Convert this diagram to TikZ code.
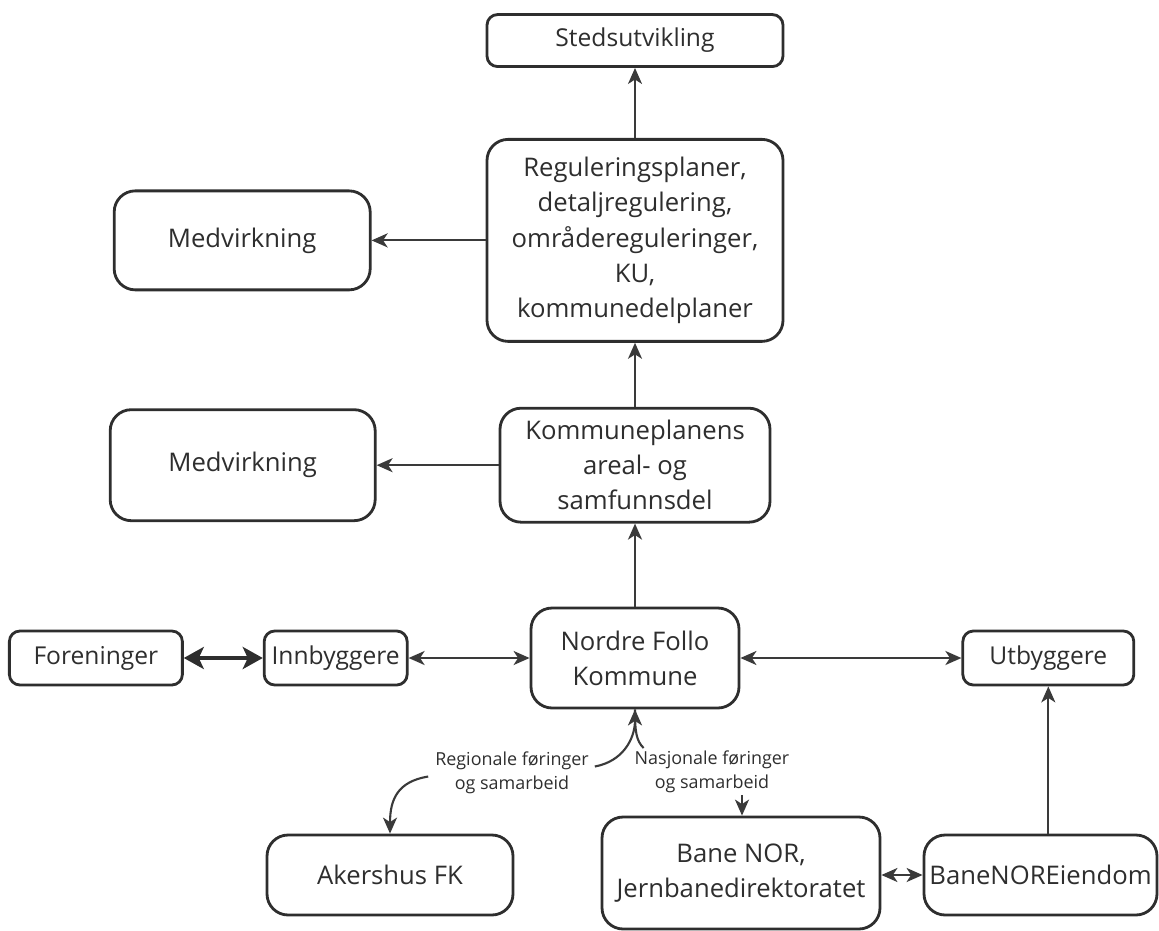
\documentclass[tikz,border=0pt]{standalone}
\usepackage{fontspec}
\setmainfont{Open Sans}
\usetikzlibrary{arrows.meta,positioning}
\definecolor{fgdark}{HTML}{2E2E2E}
\definecolor{lndark}{HTML}{3A3A3A}
\tikzset{
  box/.style  = {rectangle, rounded corners=6pt, draw=fgdark, line width=1.6pt,
                 fill=white, text=fgdark, font=\fontsize{14}{18.5}\selectfont,
                 align=center, inner sep=2pt},
  big/.style  = {box, rounded corners=12pt, font=\fontsize{14.6}{20}\selectfont},
  ed/.style   = {-{Stealth[length=3.2mm,width=2.8mm,inset=0.9mm]}, draw=lndark, line width=1.2pt},
  edd/.style  = {{Stealth[length=3.2mm,width=2.8mm,inset=0.9mm]}-{Stealth[length=3.2mm,width=2.8mm,inset=0.9mm]},
                 draw=lndark, line width=1.2pt},
  edw/.style  = {{Stealth[length=4mm,width=4.4mm,inset=1mm]}-{Stealth[length=4mm,width=4.4mm,inset=1mm]},
                 draw=fgdark, line width=2.8pt},
  lbl/.style  = {text=fgdark, font=\fontsize{10.2}{13.5}\selectfont, align=center, inner sep=1pt},
}
\begin{document}
\begin{tikzpicture}
  \useasboundingbox (0,0) rectangle (23.18,-18.62);
  % middle column
  \node[big, minimum width=4.16cm, minimum height=2.0cm] (nfk) at (12.70,-13.16) {Nordre Follo\\Kommune};
  \node[big, minimum width=5.4cm, minimum height=2.28cm, above=1.66cm of nfk] (kp) {Kommuneplanens\\areal- og\\samfunnsdel};
  \node[big, minimum width=5.92cm, minimum height=4.04cm, above=1.28cm of kp] (reg)
       {Reguleringsplaner,\\detaljregulering,\\områdereguleringer,\\KU,\\kommunedelplaner};
  \node[box, minimum width=5.92cm, minimum height=1.04cm, above=1.40cm of reg] (sted) {Stedsutvikling};
  \node[big, minimum width=5.12cm, minimum height=1.98cm, left=2.28cm of reg] (medv1) {Medvirkning};
  \node[big, minimum width=5.3cm, minimum height=2.22cm, left=2.44cm of kp] (medv2) {Medvirkning};
  % row of actors
  \node[box, minimum width=2.86cm, minimum height=1.08cm, left=2.42cm of nfk] (inn) {Innbyggere};
  \node[box, minimum width=3.46cm, minimum height=1.08cm, left=1.58cm of inn] (for) {Foreninger};
  \node[box, minimum width=3.42cm, minimum height=1.08cm, right=4.42cm of nfk] (utb) {Utbyggere};
  % bottom row
  \node[big, minimum width=4.92cm, minimum height=1.6cm] (ak) at (7.80,-17.50) {Akershus FK};
  \node[big, minimum width=5.56cm, minimum height=2.24cm] (bane) at (14.82,-17.46) {Bane NOR,\\Jernbanedirektoratet};
  \node[big, minimum width=4.66cm, minimum height=1.6cm] (bne) at (20.81,-17.50) {BaneNOREiendom};
  \node[lbl] (reglbl) at (10.24,-15.45) {Regionale føringer\\og samarbeid};
  \node[lbl] (naslbl) at (14.24,-15.44) {Nasjonale føringer\\og samarbeid};
  % connectors
  \draw[ed] (reg) -- (sted);
  \draw[ed] (reg) -- (medv1);
  \draw[ed] (kp) -- (reg);
  \draw[ed] (kp) -- (medv2);
  \draw[ed] (nfk) -- (kp);
  \draw[edw] (for) -- (inn);
  \draw[edd] (inn) -- (nfk);
  \draw[edd] (nfk) -- (utb);
  \draw[ed] (bne.north -| utb.south) -- (utb.south);
  \draw[edd] (bane.east |- bne.west) -- (bne.west);
  \draw[ed] ([shift={(0.08,0.12)}]reglbl.east) .. controls +(0.55,0.1) and +(0,-0.6) .. (nfk.south);
  \draw[line width=1.2pt, draw=lndark] ([shift={(0.22,0.02)}]naslbl.north west)
        .. controls +(-0.15,0.15) and +(0,-0.45) .. (nfk.south);
  \draw[ed] ([shift={(-0.1,-0.08)}]reglbl.west) .. controls +(-0.6,-0.1) and +(0,0.7) .. (ak.north);
  \draw[ed] ([xshift=0.6cm]naslbl.south) -- ([xshift=0.6cm]naslbl.south |- bane.north);
\end{tikzpicture}
\end{document}
